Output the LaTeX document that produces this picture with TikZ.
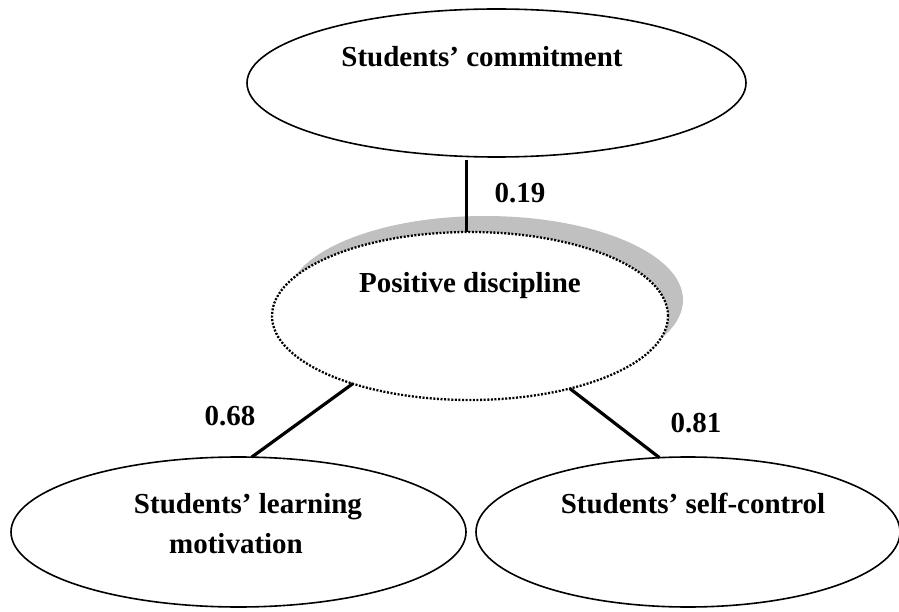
\documentclass[tikz,border=0pt]{standalone}
\usepackage{fontspec}
\setmainfont{Liberation Serif}
\usetikzlibrary{shapes.geometric}
\definecolor{shadowgray}{RGB}{192,192,192}
\tikzset{
  oval/.style={ellipse, draw=black, line width=1.6pt, inner sep=0pt, outer sep=0pt, fill=white},
  dotoval/.style={ellipse, draw=black, line width=2.3pt, dash pattern=on 2pt off 1.6pt, inner sep=0pt, outer sep=0pt, fill=white},
  lbl/.style={font=\fontsize{29}{34}\selectfont\bfseries, inner sep=0pt, anchor=base},
  conn/.style={line width=3.2pt},
}
\begin{document}
\begin{tikzpicture}[x=1pt,y=1pt]
\useasboundingbox (0,0) rectangle (899,611);
% top ellipse
\node[oval, minimum width=499pt, minimum height=148pt] (top) at (496.5,528) {};
% shadow + positive discipline
\node[ellipse, fill=shadowgray, inner sep=0pt, outer sep=0pt, minimum width=396pt, minimum height=168pt] (pdshadow) at (485,311) {};
\node[dotoval, minimum width=396pt, minimum height=168pt] (pd) at (470,295) {};
% bottom ellipses
\node[oval, minimum width=455pt, minimum height=150pt] (mot) at (238.5,79) {};
\node[oval, minimum width=424pt, minimum height=150pt] (ctrl) at (688,79) {};
% texts
\node[lbl] (tcommit) at (482,544) {Students’ commitment};
\node[lbl] (tpd) at (470,318) {Positive discipline};
\node[lbl] (tmot1) at (248,98) {Students’ learning};
\node[lbl] (tmot2) at (236,58) {motivation};
\node[lbl] (tctrl) at (693,98) {Students’ self-control};
% connectors
\draw[conn, shorten <=4pt] (top.248.6) -- (top.248.6 |- pd.north);
\draw[conn] (pd.210) -- (mot.80);
\draw[conn] (pd.-36) -- (ctrl.111);
% coefficient labels
\node[lbl, anchor=center] (c19) at (520,418) {0.19};
\node[lbl, anchor=center] (c68) at (230,195) {0.68};
\node[lbl, anchor=center] (c81) at (696,188) {0.81};
\end{tikzpicture}
\end{document}
